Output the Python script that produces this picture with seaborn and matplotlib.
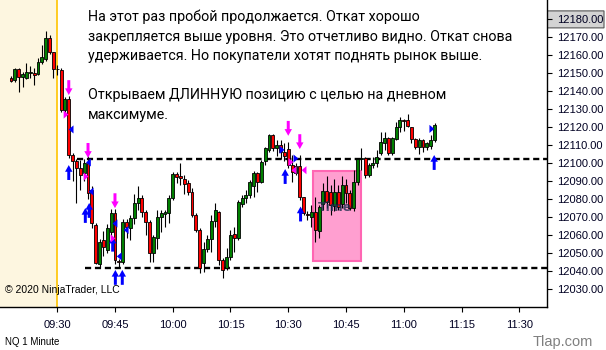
import numpy as np
import pandas as pd
import matplotlib
matplotlib.use("Agg")
import matplotlib.pyplot as plt
import seaborn as sns
from matplotlib.path import Path
from matplotlib.patches import Rectangle, Polygon

sns.set_style("white")
plt.rcParams['font.family'] = ['DejaVu Sans']

# ---------------- data ----------------
start_time = "09:18"
opens = [12147.5, 12146.2, 12152.1, 12147.7, 12147.5, 12150.4, 12150.0, 12149.4, 12156.4, 12157.7,
         12169.8, 12161.6, 12152.6, 12151.8, 12129.8, 12135.5, 12104.5, 12101.2, 12097.2, 12094.3,
         12099.8, 12085.0, 12065.5, 12043.5, 12057.1, 12051.6, 12061.8, 12072.0, 12045.5, 12045.0,
         12067.3, 12063.6, 12069.2, 12077.6, 12080.3, 12072.9, 12067.3, 12049.7, 12058.1, 12070.1,
         12071.5, 12072.0, 12080.3, 12093.9, 12092.8, 12090.9, 12089.0, 12084.1, 12071.0, 12062.7,
         12044.1, 12052.1, 12057.7, 12067.7, 12072.9, 12046.0, 12041.5, 12047.5, 12060.3, 12058.1,
         12077.0, 12080.7, 12082.2, 12087.0, 12094.3, 12089.2, 12101.1, 12107.3, 12115.6, 12108.5,
         12110.0, 12106.0, 12107.6, 12098.9, 12094.6, 12098.3, 12080.9, 12071.5, 12069.7, 12072.9,
         12062.3, 12077.2, 12084.2, 12084.0, 12076.2, 12084.1, 12077.0, 12087.6, 12083.1, 12074.8,
         12089.6, 12102.3, 12102.6, 12093.3, 12098.9, 12099.8, 12105.4, 12111.3, 12113.8, 12105.8,
         12113.2, 12120.2, 12123.9, 12123.9, 12119.9, 12113.2, 12109.1, 12112.8, 12109.1, 12109.5,
         12112.8]
highs = [12148.5, 12153.0, 12152.7, 12150.9, 12155.5, 12154.2, 12152.7, 12158.3, 12165.7, 12173.5,
         12171.3, 12162.0, 12154.6, 12153.0, 12137.0, 12137.5, 12105.5, 12102.0, 12101.5, 12102.5,
         12104.0, 12087.0, 12066.5, 12057.5, 12062.0, 12066.0, 12074.5, 12074.5, 12046.5, 12069.0,
         12069.0, 12071.0, 12083.0, 12087.0, 12082.0, 12074.0, 12068.0, 12060.0, 12073.8, 12073.8,
         12073.8, 12082.0, 12094.8, 12094.8, 12099.8, 12093.3, 12090.5, 12085.9, 12072.0, 12063.6,
         12056.2, 12059.9, 12071.0, 12077.5, 12073.5, 12047.0, 12052.5, 12062.7, 12064.6, 12079.4,
         12082.2, 12085.0, 12090.5, 12095.6, 12095.2, 12101.7, 12109.1, 12116.0, 12116.0, 12113.0,
         12113.0, 12111.0, 12111.9, 12104.5, 12099.8, 12104.5, 12081.3, 12073.0, 12076.6, 12081.3,
         12076.6, 12088.7, 12093.0, 12088.0, 12091.0, 12088.0, 12093.0, 12091.0, 12085.0, 12096.0,
         12103.0, 12108.2, 12103.5, 12099.8, 12103.5, 12107.5, 12117.5, 12117.5, 12114.3, 12114.7,
         12123.0, 12125.8, 12124.3, 12127.3, 12120.2, 12113.8, 12113.8, 12113.2, 12111.9, 12115.6,
         12122.1]
lows = [12145.0, 12145.3, 12139.4, 12142.5, 12146.6, 12147.2, 12143.4, 12149.0, 12155.0, 12156.8,
        12160.5, 12147.2, 12149.0, 12128.5, 12127.5, 12103.0, 12090.0, 12078.0, 12085.0, 12090.0,
        12080.0, 12064.0, 12043.5, 12042.0, 12048.0, 12050.0, 12058.0, 12044.0, 12041.5, 12043.5,
        12058.0, 12057.0, 12066.0, 12074.0, 12070.0, 12060.0, 12045.0, 12045.0, 12052.0, 12061.8,
        12064.6, 12066.4, 12079.4, 12089.0, 12088.0, 12082.8, 12082.2, 12070.1, 12061.8, 12038.6,
        12039.5, 12050.6, 12050.6, 12064.6, 12043.0, 12035.8, 12040.4, 12046.0, 12050.6, 12057.2,
        12075.7, 12077.5, 12080.3, 12081.3, 12084.0, 12088.7, 12098.9, 12106.3, 12106.7, 12104.0,
        12102.0, 12101.0, 12097.0, 12089.6, 12093.3, 12079.4, 12071.0, 12068.5, 12064.6, 12056.0,
        12058.0, 12073.8, 12075.0, 12071.0, 12073.0, 12074.0, 12075.0, 12078.0, 12074.0, 12073.0,
        12088.0, 12096.1, 12091.5, 12092.0, 12097.0, 12098.0, 12104.5, 12107.2, 12104.5, 12104.5,
        12112.8, 12117.5, 12118.0, 12120.2, 12111.3, 12107.6, 12105.0, 12106.3, 12107.2, 12107.6,
        12111.9]
closes = [12145.7, 12152.3, 12148.1, 12149.4, 12150.5, 12150.7, 12149.2, 12156.4, 12159.2, 12169.8,
          12161.6, 12152.2, 12152.2, 12129.8, 12135.5, 12104.5, 12101.2, 12097.2, 12093.4, 12100.2,
          12083.1, 12066.4, 12044.1, 12056.2, 12053.4, 12063.6, 12072.0, 12046.0, 12044.8, 12067.3,
          12064.2, 12069.2, 12077.6, 12080.3, 12072.9, 12067.3, 12049.7, 12058.6, 12070.1, 12072.0,
          12072.5, 12080.3, 12093.9, 12092.4, 12091.5, 12088.1, 12084.1, 12071.0, 12062.7, 12041.4,
          12052.1, 12057.7, 12067.7, 12073.8, 12046.0, 12040.4, 12047.5, 12059.9, 12058.4, 12078.5,
          12080.7, 12082.2, 12089.6, 12094.3, 12089.6, 12100.8, 12108.2, 12115.6, 12108.5, 12110.0,
          12106.0, 12104.0, 12098.9, 12095.2, 12098.3, 12080.9, 12072.0, 12071.0, 12072.9, 12062.5,
          12075.3, 12084.2, 12078.5, 12076.6, 12084.1, 12075.7, 12087.6, 12083.1, 12074.8, 12089.6,
          12102.0, 12102.8, 12093.3, 12098.9, 12100.2, 12103.5, 12111.9, 12113.8, 12105.8, 12113.8,
          12120.2, 12123.9, 12123.3, 12120.6, 12113.2, 12109.1, 12112.8, 12109.1, 12111.3, 12112.8,
          12121.2]

levels = [12102.5, 12041.5]
level_start = [5.1, 7.2]          # minutes after 09:30 where each level line begins

zone_t = [66.3, 78.8]             # minutes after 09:30
zone_p = [12045.6, 12095.6]

down_arrow_t = [3, 8, 15, 60, 63]
down_arrow_p = [12142.0, 12107.0, 12079.0, 12119.3, 12111.9]
up_arrow_t = [3, 7.3, 8.3, 14.4, 15.1, 16.9, 59.2, 63.2, 97.9]
up_arrow_p = [12094.7, 12070.8, 12073.6, 12054.8, 12036.3, 12036.3, 12092.5, 12071.6, 12100.3]
blue_left_t = [3.6, 8.1, 8.8, 15.0, 16.1, 17.9]
blue_left_p = [12118.7, 12100.3, 12084.1, 12066.3, 12048.0, 12062.7]
blue_right_t = [58.4, 62.0, 97.3]
blue_right_p = [12107.3, 12102.5, 12119.0]
mag_right_t = [2.3, 7.5, 14.5, 60.7]
mag_right_p = [12127.0, 12092.5, 12058.0, 12100.5]
mag_left_t = [61.5, 64.1]
mag_left_p = [12096.0, 12096.0]

xtick_labels = ["09:30", "09:45", "10:00", "10:15", "10:30", "10:45", "11:00", "11:15", "11:30"]
ytick_values = list(range(12030, 12181, 10))
marked_price = 12180

header_lines = ["На этот раз пробой продолжается. Откат хорошо",
                "закрепляется выше уровня. Это отчетливо видно. Откат снова",
                "удерживается. Но покупатели хотят поднять рынок выше.",
                "",
                "Открываем ДЛИННУЮ позицию с целью на дневном",
                "максимуме."]

# ---------------- frame ----------------
times = pd.date_range(f"2020-01-01 {start_time}", periods=len(opens), freq="min")
t0 = pd.Timestamp("2020-01-01 09:30")
df = pd.DataFrame({"t": (times - t0).total_seconds() / 60.0,
                   "open": opens, "high": highs, "low": lows, "close": closes})
df["up"] = df["close"] >= df["open"]

W, H = 606, 350
fig = plt.figure(figsize=(W / 100, H / 100), dpi=100)
ax = fig.add_axes([0, 43 / H, 547 / W, 307 / H])
ax.set_xlim(-14.86, 127.2)
ax.set_ylim(12019.8, 12190.8)
ax.set_facecolor("white")

# pre-market shading and session line
ax.axvspan(-14.86, 0, color="#fdf6e0", zorder=0, lw=0)
ax.axvline(0, color="#ffc400", lw=1.2, zorder=0.5)

# level lines
for lv, st in zip(levels, level_start):
    ax.hlines(lv, st, 127.2, colors="black", lw=1.7, linestyles=(0, (2.6, 1.6)), zorder=1)

# zone
ax.add_patch(Rectangle((zone_t[0], zone_p[0]), zone_t[1] - zone_t[0], zone_p[1] - zone_p[0],
                       facecolor="#ff9fd0", edgecolor="#ff66b3", lw=1.5, zorder=1.5))

# candles
ax.vlines(df["t"], df["low"], df["high"], colors="black", lw=0.8, zorder=2)
body_bottom = np.minimum(df["open"], df["close"])
body_h = np.abs(df["close"] - df["open"])
ax.bar(df["t"], body_h, bottom=body_bottom, width=0.76,
       color=np.where(df["up"], "#008000", "#ff0000"), edgecolor="black", linewidth=0.6, zorder=3)

# markers
up_path = Path([(-0.2, -1), (0.2, -1), (0.2, 0.1), (0.5, 0.1), (0, 1), (-0.5, 0.1), (-0.2, 0.1), (-0.2, -1)],
               [Path.MOVETO] + [Path.LINETO] * 6 + [Path.CLOSEPOLY])
down_path = Path([(x, -y) for x, y in up_path.vertices], up_path.codes)
left_tri = Path([(0.6, -1), (0.6, 1), (-0.6, 0), (0.6, -1)],
                [Path.MOVETO, Path.LINETO, Path.LINETO, Path.CLOSEPOLY])
right_tri = Path([(-0.6, -1), (-0.6, 1), (0.6, 0), (-0.6, -1)],
                 [Path.MOVETO, Path.LINETO, Path.LINETO, Path.CLOSEPOLY])

def markers(ts, ps, path, color, s):
    sns.scatterplot(x=ts, y=ps, marker=path, s=s, color=color, edgecolor="none",
                    linewidth=0, ax=ax, zorder=4, legend=False)

markers(down_arrow_t, down_arrow_p, down_path, "#ff00ff", 115)
markers(up_arrow_t, up_arrow_p, up_path, "#0000ff", 115)
markers(blue_left_t, blue_left_p, left_tri, "#0000ff", 34)
markers(blue_right_t, blue_right_p, right_tri, "#0000ff", 34)
markers(mag_right_t, mag_right_p, right_tri, "#ff00ff", 34)
markers(mag_left_t, mag_left_p, left_tri, "#ff00ff", 34)

ax.text(np.mean(zone_t) - 0.3, 12075.5, "Time", color="#1f3050", alpha=0.8, fontsize=9,
        fontweight="bold", ha="center", va="center", zorder=5)

# axes styling
for side in ["left", "top"]:
    ax.spines[side].set_visible(False)
for side in ["right", "bottom"]:
    ax.spines[side].set_color("black")
    ax.spines[side].set_linewidth(1.0)
ax.yaxis.tick_right()
ax.set_yticks(ytick_values)
ax.set_yticklabels([f"{v:.2f}" for v in ytick_values], fontsize=8, family="Liberation Sans",
                   color="#000022")
ax.set_xticks(np.arange(0, 121, 15))
ax.set_xticklabels(xtick_labels, fontsize=8, family="Liberation Sans", color="#000022")
ax.tick_params(axis="y", direction="out", length=3.6, width=0.8, pad=3.5, colors="black",
               labelcolor="#000022", right=True, left=False)
ax.tick_params(axis="x", direction="out", length=3.6, width=0.8, pad=6, colors="black",
               labelcolor="#000022", bottom=True)
ax.grid(False)

# highlighted price marker on the axis (drawn beneath the tick label)
cy = ax.transData.transform((0, marked_price))[1] / H
poly = Polygon([(541 / W, cy), (546 / W, cy + 8.5 / H), (604 / W, cy + 8.5 / H),
                (604 / W, cy - 8.5 / H), (546 / W, cy - 8.5 / H)], closed=True,
               transform=fig.transFigure, facecolor="#d3d3d3", edgecolor="#555555", lw=0.8, zorder=-1)
fig.patches.append(poly)

# header text
for i, line in enumerate(header_lines):
    if line:
        fig.text(88 / W, 1 - (17 + i * 19.6) / H, line, fontsize=10.3, family="Roboto",
                 color="black", ha="left", va="center")

fig.text(5 / W, 1 - 290 / H, "© 2020 NinjaTrader, LLC", fontsize=7.5, family="Liberation Sans",
         color="black", ha="left", va="center")
fig.text(5 / W, 1 - 342 / H, "NQ 1 Minute", fontsize=7, family="Liberation Sans",
         color="black", ha="left", va="center")
fig.text(563 / W, 1 - 342 / H, "Tlap.com", fontsize=10.5, family="Liberation Sans",
         color="#7f7f7f", ha="center", va="center")

fig.savefig("out.png", dpi=100)
